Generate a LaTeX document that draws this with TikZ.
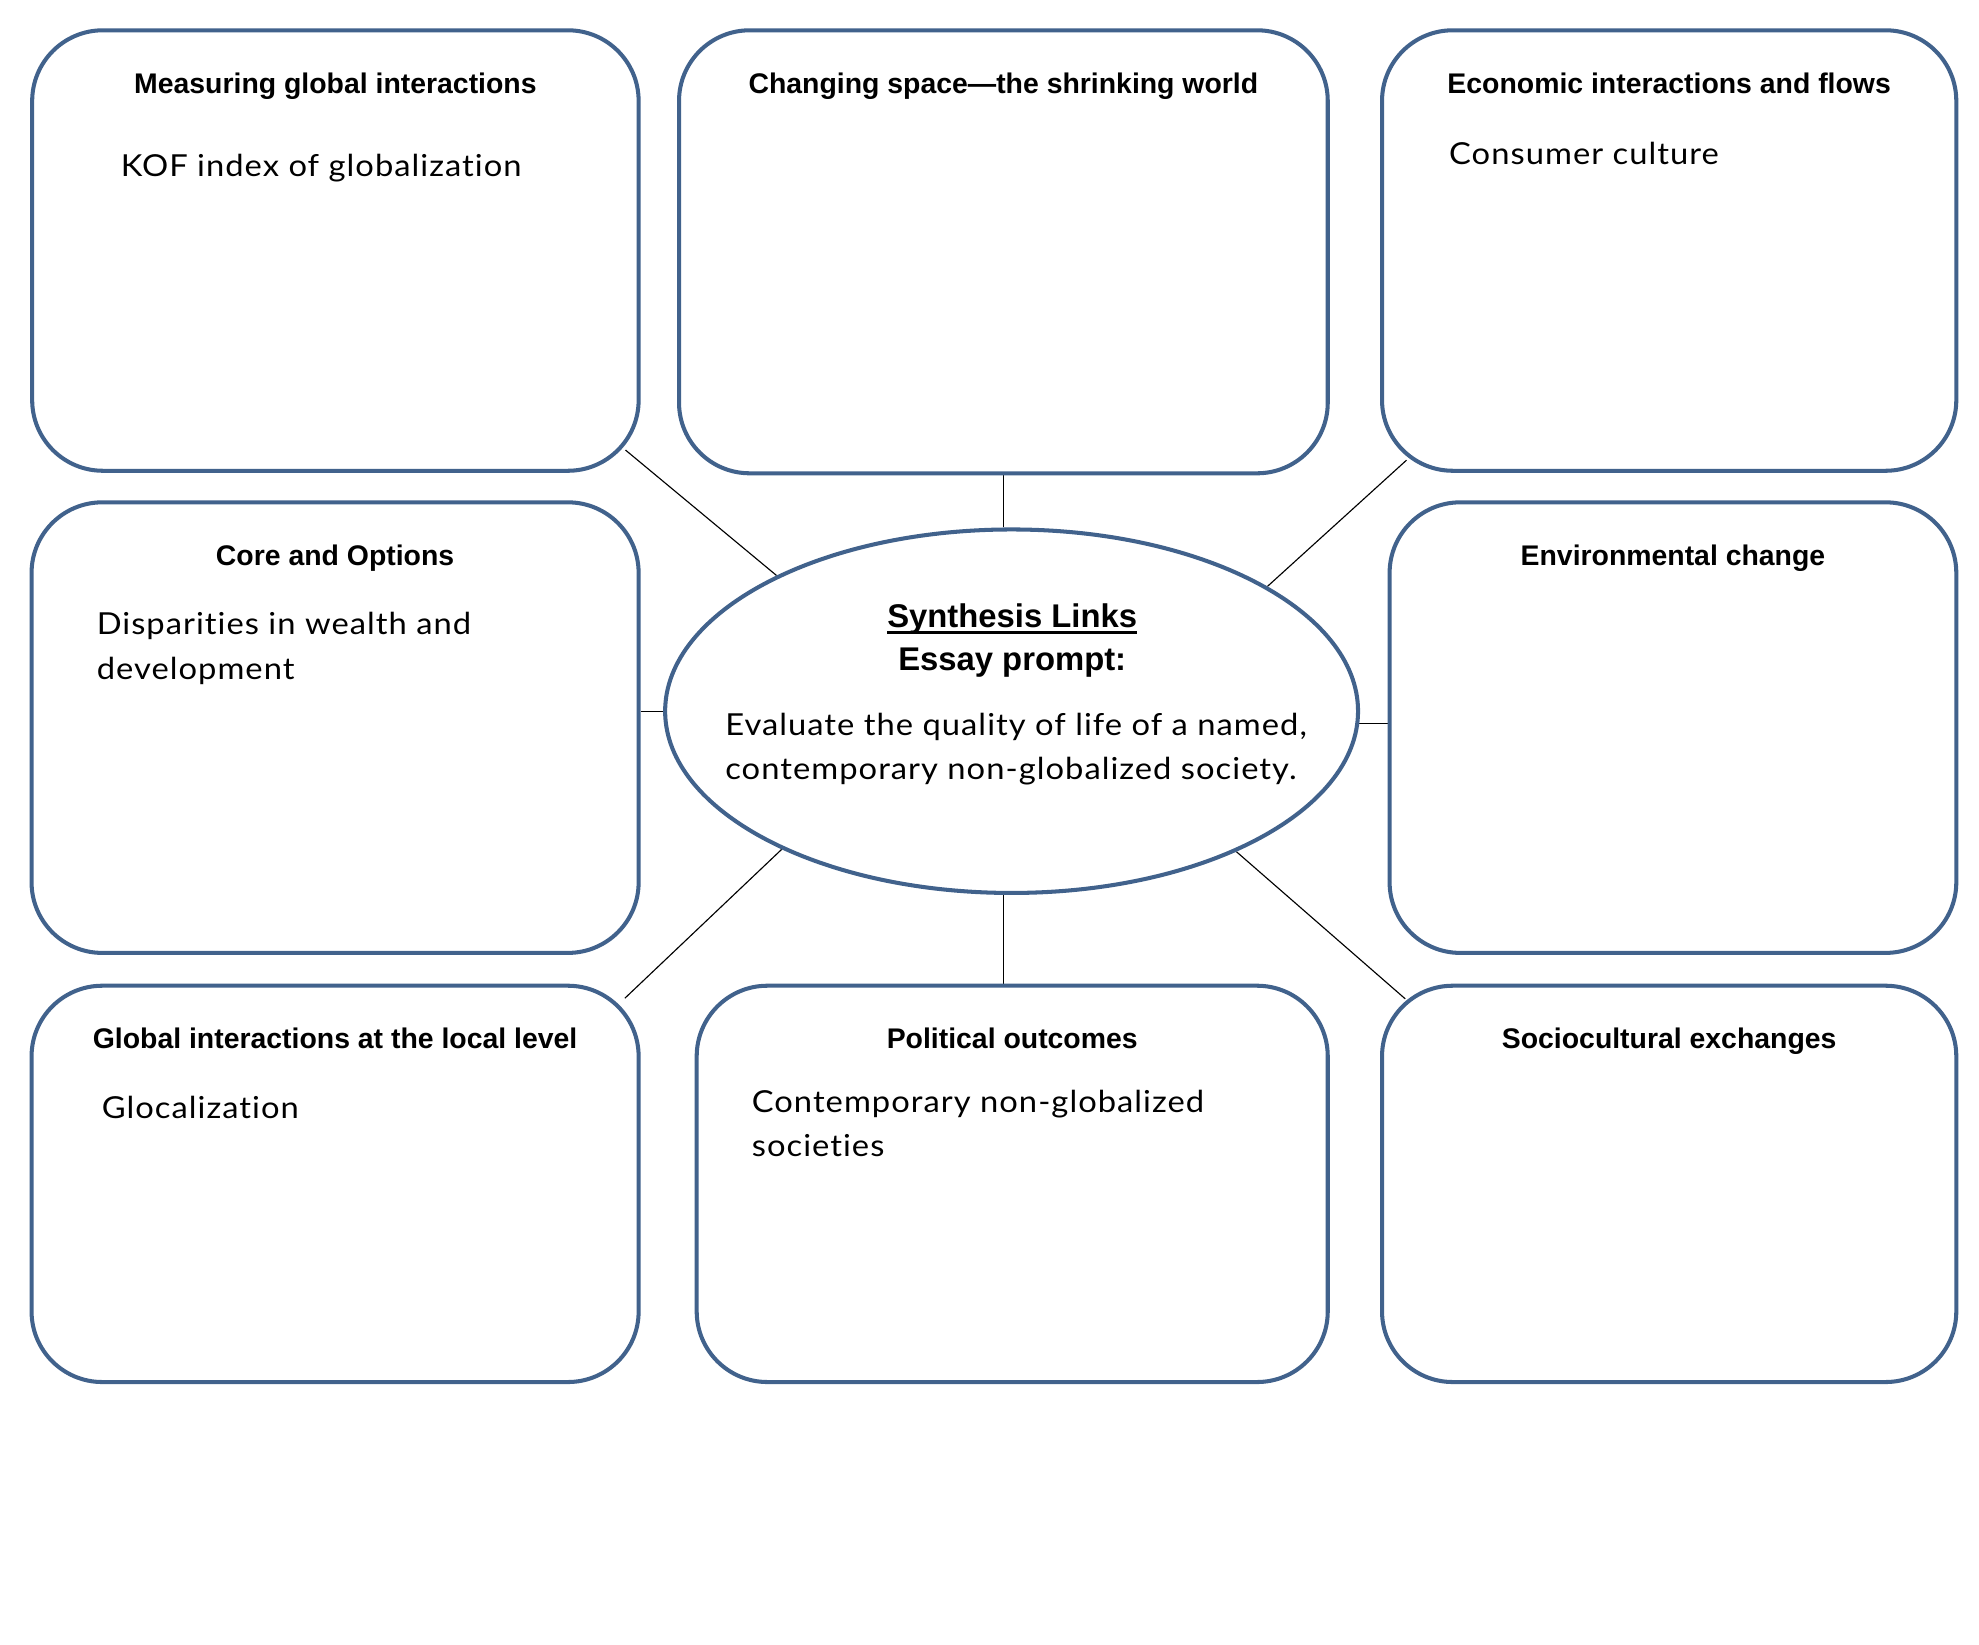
\documentclass[tikz,border=0pt]{standalone}
\usepackage{fontspec}
\setmainfont{Liberation Sans}
\newfontfamily\bodyfont[Ligatures=NoCommon, FakeStretch=1.08, LetterSpace=3.4]{Lato}
\usetikzlibrary{shapes.geometric,calc}
\definecolor{boxblue}{RGB}{65,98,140}
\pgfdeclarelayer{bg}
\pgfsetlayers{bg,main}
\tikzset{
  box/.style={draw=boxblue, line width=3.2pt, rounded corners=56pt, fill=white, inner sep=0pt},
  hdr/.style={font=\fontsize{22.5}{27}\selectfont\bfseries, anchor=base, inner sep=0pt},
  body/.style={font=\bodyfont\fontsize{24}{35.3}\selectfont, anchor=base west, align=left, inner sep=0pt},
  ttl/.style={font=\fontsize{26}{31}\selectfont\bfseries, anchor=base, inner sep=0pt},
  link/.style={draw=black, line width=0.9pt},
}
\begin{document}
\begin{tikzpicture}[x=1pt,y=-1pt]
\begin{pgfonlayer}{bg}
\fill[white] (0,0) rectangle (1568,1303);
\end{pgfonlayer}
\useasboundingbox (0,0) rectangle (1568,1303);
% boxes
\node[box, minimum width=480.5pt, minimum height=349pt] (b1) at (265.75,198.5) {};
\node[box, minimum width=514pt, minimum height=351pt] (b2) at (795,199.5) {};
\node[box, minimum width=455pt, minimum height=349pt] (b3) at (1322.5,198.5) {};
\node[box, minimum width=481pt, minimum height=357pt] (b4) at (265.5,576.5) {};
\node[box, minimum width=449pt, minimum height=357pt] (b5) at (1325.5,576.5) {};
\node[box, minimum width=481pt, minimum height=314pt] (b6) at (265.5,938) {};
\node[box, minimum width=500pt, minimum height=314pt] (b7) at (802,938) {};
\node[box, minimum width=455pt, minimum height=314pt] (b8) at (1322.5,938) {};
% central ellipse
\node[draw=boxblue, line width=3.2pt, ellipse, fill=white, minimum width=549pt, minimum height=288pt, inner sep=0pt] (ell) at (801.5,563.5) {};
% headers
\node[hdr] (h1) at ($(b1.north)+(0,52)$) {Measuring global interactions};
\node[hdr] (h2) at ($(b2.north)+(0,52)$) {Changing space---the shrinking world};
\node[hdr] (h3) at ($(b3.north)+(0,52)$) {Economic interactions and flows};
\node[hdr] (h4) at ($(b4.north)+(0,52)$) {Core and Options};
\node[hdr] (h5) at ($(b5.north)+(0,52)$) {Environmental change};
\node[hdr] (h6) at ($(b6.north)+(0,51)$) {Global interactions at the local level};
\node[hdr] (h7) at ($(b7.north)+(0,51)$) {Political outcomes};
\node[hdr] (h8) at ($(b8.north)+(0,51)$) {Sociocultural exchanges};
% body texts (base = baseline of last line)
\node[body] (t1) at (95.5,140) {KOF index of globalization};
\node[body] (t3) at (1148,130) {Consumer culture};
\node[body] (t4) at (76.5,538) {Disparities in wealth and\\development};
\node[body] (t6) at (80.5,886) {Glocalization};
\node[body] (t7) at (595.5,916.5) {Contemporary non-globalized\\societies};
% ellipse texts
\node[ttl] (s1) at (802,497) {Synthesis Links};
\draw[line width=2.4pt] ($(s1.base west)+(0,4.5)$) -- ($(s1.base east)+(0,4.5)$);
\node[ttl] (s2) at (802,531) {Essay prompt:};
\node[body] (s3) at (574.5,618) {Evaluate the quality of life of a named,\\contemporary non-globalized society.};
% connectors
\coordinate (c1) at ($(b1.south east)+(-12,-18)$);
\coordinate (c3) at ($(b3.south west)+(21,-10)$);
\coordinate (c6) at ($(b6.north east)+(-12.5,11.5)$);
\coordinate (c8) at ($(b8.north west)+(20,12)$);
\begin{pgfonlayer}{bg}
\draw[link] (ell.150.9) -- (c1);
\draw[link] (ell.26.4) -- (c3);
\draw[link] (ell.211.7) -- (c6);
\draw[link] (ell.-32.1) -- (c8);
\draw[link] (b2.south) -- (ell.north -| b2.south);
\draw[link] (ell.south -| b2.south) -- (b7.north -| b2.south);
\draw[link] (ell.west) -- (ell.west -| b4.east);
\draw[link] (ell.-2) -- (ell.-2 -| b5.west);
\end{pgfonlayer}
\end{tikzpicture}
\end{document}
